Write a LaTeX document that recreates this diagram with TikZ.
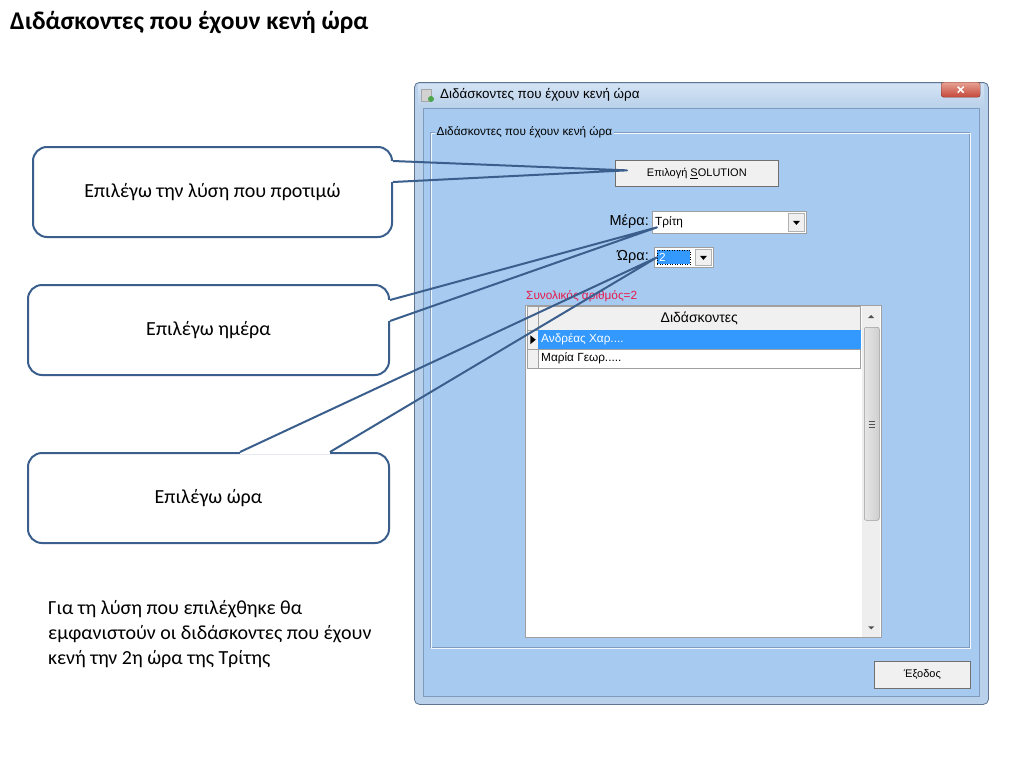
\documentclass[tikz,border=0pt]{standalone}
\usepackage{fontspec}
\setmainfont{Carlito}
\newfontfamily\winfont{Liberation Sans}
\usetikzlibrary{calc}
\definecolor{cob}{HTML}{3B5F8C}
\definecolor{winframe}{HTML}{B9D1EA}
\definecolor{wintop}{HTML}{D3E3F4}
\definecolor{winedge}{HTML}{5F7590}
\definecolor{client}{HTML}{A6CAF0}
\definecolor{clientedge}{HTML}{7F9BBD}
\definecolor{selblue}{HTML}{3399FF}
\definecolor{btnface}{HTML}{F0F0F0}
\definecolor{btnedge}{HTML}{707070}
\definecolor{gridline}{HTML}{A0A0A0}
\definecolor{redtxt}{HTML}{E8194B}
\definecolor{sbface}{HTML}{EEEEEE}
\definecolor{thumbA}{HTML}{E6E6E6}
\definecolor{thumbB}{HTML}{CFCFCF}
\definecolor{thumbedge}{HTML}{9C9C9C}
\definecolor{closeA}{HTML}{E6A294}
\definecolor{closeB}{HTML}{C4463A}
\definecolor{closeedge}{HTML}{7E3A32}
\definecolor{arrowgray}{HTML}{505050}
\begin{document}
\begin{tikzpicture}[x=1pt,y=-1pt,
  wf/.style={font=\winfont\fontsize{11.8}{13}\selectfont},
  calloutbox/.style={draw=cob, line width=2pt, rounded corners=14pt, fill=white,
    minimum width=#1, minimum height=90pt, inner sep=0pt, font=\fontsize{20}{24}\selectfont},
  ptrline/.style={draw=cob, line width=2pt, line join=round},
  wipe/.style={draw=white, line width=3.6pt},
  btn/.style={draw=btnedge, fill=btnface, line width=0.7pt, inner sep=0pt, anchor=north west, font=\winfont\fontsize{11}{13}\selectfont},
  cfield/.style={draw=gray!75, fill=white, line width=0.7pt, inner sep=0pt, anchor=north west},
  ddbtn/.style={draw=gray!60, fill=btnface, line width=0.5pt, inner sep=0pt, minimum width=16pt},
  gcell/.style={draw=gridline, line width=0.5pt, inner sep=0pt, anchor=north west},
  txt/.style={inner sep=0pt, anchor=west, wf},
  ]
\useasboundingbox (0,0) rectangle (1024,768);
\fill[white] (0,0) rectangle (1024,768);

% heading
\node[anchor=base west, inner sep=0pt, font=\fontsize{25.5}{30}\selectfont\bfseries] (heading) at (10,30) {Διδάσκοντες που έχουν κενή ώρα};

% window
\node[draw=winedge, fill=winframe, line width=0.8pt, rounded corners=5pt, minimum width=574pt,
  minimum height=622pt, anchor=north west, inner sep=0pt] (win) at (414,82) {};
\shade[top color=wintop, bottom color=winframe] (418,84) rectangle (984,107);
\node[draw=clientedge, fill=client, line width=0.6pt, anchor=north west, minimum width=556pt,
  minimum height=588pt, inner sep=0pt] (client) at (423,108) {};
% title icon
\fill[gray!35] (421,89) rectangle (431,101);
\draw[gray!70, line width=0.5pt] (421,89) rectangle (431,101);
\fill[green!50!black!70] (431,99) circle (3);
\node[anchor=west, inner sep=0pt, font=\winfont\fontsize{13.4}{15}\selectfont] (wtitle) at (440,95) {Διδάσκοντες που έχουν κενή ώρα};
% close button
\node[anchor=north west, minimum width=39pt, minimum height=15pt, inner sep=0pt, draw=closeedge,
  top color=closeA, bottom color=closeB, rounded corners=2.5pt] (close) at (941,82) {};
\draw[white, line width=1.5pt] ($(close.center)+(-3,-3)$) -- ($(close.center)+(3,3)$);
\draw[white, line width=1.5pt] ($(close.center)+(-3,3)$) -- ($(close.center)+(3,-3)$);

% group box
\draw[clientedge, line width=0.6pt] (430,132) rectangle (969,647);
\draw[white!85!client, line width=0.8pt] (431,133) rectangle (970,648);
\node[anchor=west, fill=client, inner xsep=1.5pt, inner ysep=1pt, wf] (glabel) at (435,132) {Διδάσκοντες που έχουν κενή ώρα};

% solution button
\node[btn, minimum width=163pt, minimum height=26pt] (sol) at (615,160) {Επιλογή \underline{S}OLUTION};

% day / hour
\node[anchor=east, inner sep=0pt, font=\winfont\fontsize{14.5}{16}\selectfont] (lmera) at (649,222) {Μέρα:};
\node[anchor=east, inner sep=0pt, font=\winfont\fontsize{14.5}{16}\selectfont] (lora) at (649,257) {Ώρα:};

\node[cfield, minimum width=154pt, minimum height=22pt] (mera) at (652,211) {};
\node[txt] (meratxt) at ([xshift=3pt]mera.west) {Τρίτη};
\node[ddbtn, minimum height=18pt, anchor=east] (meradd) at ([xshift=-2pt]mera.east) {};
\fill ($(meradd.center)+(-3.5,-1.5)$) -- ($(meradd.center)+(3.5,-1.5)$) -- ($(meradd.center)+(0,2.5)$) -- cycle;

\node[cfield, minimum width=59pt, minimum height=20pt] (ora) at (654,247) {};
\node[anchor=west, fill=selblue, minimum width=33pt, minimum height=14pt, inner sep=0pt, draw=black,
  dotted, line width=0.5pt] (orasel) at ([xshift=3pt]ora.west) {};
\node[txt, text=white] (oratxt) at ([xshift=2pt]orasel.west) {2};
\node[ddbtn, minimum height=16pt, anchor=east] (oradd) at ([xshift=-2pt]ora.east) {};
\fill ($(oradd.center)+(-3.5,-1.5)$) -- ($(oradd.center)+(3.5,-1.5)$) -- ($(oradd.center)+(0,2.5)$) -- cycle;

% total
\node[txt, text=redtxt] (total) at (526,296) {Συνολικός αριθμός=2};

% grid
\node[gcell, fill=white, minimum width=356pt, minimum height=332pt] (grid) at (525,305) {};
\node[gcell, fill=btnface, minimum width=11pt, minimum height=24pt] (hind) at (527,306) {};
\node[gcell, fill=btnface, minimum width=322pt, minimum height=24pt, font=\winfont\fontsize{14}{16}\selectfont] (hdr) at (538,306) {Διδάσκοντες};
\node[gcell, fill=btnface, minimum width=11pt, minimum height=19pt] (ind1) at (527,330) {};
\fill ($(ind1.center)+(-2.5,-4.5)$) -- ($(ind1.center)+(3,0)$) -- ($(ind1.center)+(-2.5,4.5)$) -- cycle;
\node[gcell, fill=selblue, draw=selblue, minimum width=322pt, minimum height=19pt] (r1) at (538,330) {};
\node[txt, text=white] (r1t) at ([xshift=3pt]r1.west) {Ανδρέας Χαρ....};
\node[gcell, fill=btnface, minimum width=11pt, minimum height=19pt] (ind2) at (527,349) {};
\node[gcell, fill=white, minimum width=322pt, minimum height=19pt] (r2) at (538,349) {};
\node[txt] (r2t) at ([xshift=3pt]r2.west) {Μαρία Γεωρ.....};

% scrollbar
\node[anchor=north west, fill=sbface, inner sep=0pt, minimum width=18pt, minimum height=331pt] (sb) at (862,306) {};
\fill[arrowgray] ($(sb.north)+(-3,12)$) -- ($(sb.north)+(3,12)$) -- ($(sb.north)+(0,9)$) -- cycle;
\node[anchor=north west, draw=thumbedge, left color=thumbA, right color=thumbB, rounded corners=2pt,
  minimum width=15pt, minimum height=193pt, inner sep=0pt, line width=0.5pt] (thumb) at (864,327) {};
\draw[arrowgray, line width=0.5pt] ($(thumb.center)+(-3,-3)$) -- ($(thumb.center)+(3,-3)$);
\draw[arrowgray, line width=0.5pt] ($(thumb.center)+(-3,0)$) -- ($(thumb.center)+(3,0)$);
\draw[arrowgray, line width=0.5pt] ($(thumb.center)+(-3,3)$) -- ($(thumb.center)+(3,3)$);
\fill[arrowgray] ($(sb.south)+(-3,-11)$) -- ($(sb.south)+(3,-11)$) -- ($(sb.south)+(0,-8)$) -- cycle;

% exit button
\node[btn, minimum width=96pt, minimum height=27pt] (exit) at (874,661) {Έξοδος};

% callouts
\node[calloutbox=359pt] (c1) at (212.5,192) {Επιλέγω την λύση που προτιμώ};
\node[calloutbox=361pt] (c2) at (208.5,330) {Επιλέγω ημέρα};
\node[calloutbox=361pt] (c3) at (208.5,498) {Επιλέγω ώρα};

\coordinate (t1) at ([xshift=12pt,yshift=3pt]sol.west);
\coordinate (c1a) at ([yshift=-15pt]c1.north east);
\coordinate (c1b) at ([yshift=-36pt]c1.north east);
\draw[wipe] (c1a) -- (c1b);
\draw[ptrline] (c1a) -- (t1) -- (c1b);

\coordinate (t2) at ([xshift=5pt,yshift=-5pt]mera.west);
\coordinate (c2a) at ([yshift=-16pt]c2.north east);
\coordinate (c2b) at ([yshift=-37pt]c2.north east);
\draw[wipe] (c2a) -- (c2b);
\draw[ptrline] (c2a) -- (t2) -- (c2b);

\coordinate (t3) at ([xshift=3pt]ora.west);
\coordinate (c3a) at ([xshift=31.5pt]c3.north);
\coordinate (c3b) at ([xshift=121.5pt]c3.north);
\draw[wipe] (c3a) -- (c3b);
\draw[ptrline] (c3a) -- (t3) -- (c3b);

% note
\node[anchor=north west, align=left, inner sep=0pt, font=\fontsize{20}{25}\selectfont] (note) at (48,600)
  {Για τη λύση που επιλέχθηκε θα\\εμφανιστούν οι διδάσκοντες που έχουν\\κενή την 2η ώρα της Τρίτης};
\end{tikzpicture}
\end{document}
